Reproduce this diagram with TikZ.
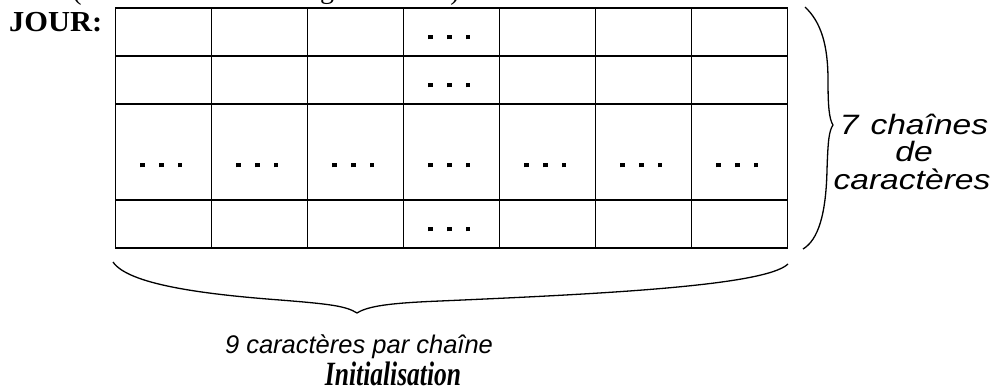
\documentclass[tikz,border=0pt]{standalone}
\usepackage{fontspec}
\usetikzlibrary{calc}
\newfontfamily\labelsans{Liberation Sans}
\newfontfamily\titleserif{Liberation Serif}
% three square dots marking elided characters
\newcommand\celldots{\rule{4.5bp}{4.5bp}\hspace{14.5bp}\rule{4.5bp}{4.5bp}\hspace{14bp}\rule{4.5bp}{4.5bp}}
\newcommand\stretchx[2]{\scalebox{#1}[1]{#2}}

\begin{document}
\begin{tikzpicture}[x=1bp,y=-1bp,
  cell/.style={draw, line width=1.8bp, inner sep=0, minimum width=96bp, minimum height=48bp},
  tallcell/.style={cell, minimum height=96bp},
  dotmark/.style={inner sep=0, anchor=center},
  brace/.style={line width=1.3bp, line join=round},
  sidetext/.style={font=\labelsans\itshape\fontsize{28bp}{28bp}\selectfont, inner sep=0, anchor=base},
  bottomtext/.style={font=\labelsans\itshape\fontsize{25.5bp}{25.5bp}\selectfont, inner sep=0, anchor=base},
  titletext/.style={font=\titleserif\bfseries\itshape\fontsize{34bp}{34bp}\selectfont, inner sep=0, anchor=base},
  headtext/.style={font=\titleserif\bfseries\fontsize{29bp}{29bp}\selectfont, inner sep=0, anchor=base west},
  cuttext/.style={font=\titleserif\fontsize{28bp}{28bp}\selectfont, inner sep=0, anchor=base}]
\useasboundingbox (0,0) rectangle (996,387);

% line of text above, cut off by the top edge
\begin{scope}
  \clip (0,0) rectangle (996,387);
  \node[cuttext] (lp) at (77,-1) {(};
  \node[cuttext] (gg) at (327,-1.5) {g};
  \node[cuttext] (rp) at (455,-1) {)};
\end{scope}

% table of 7 strings of 9 characters
\node[headtext] (jour) at (9,31) {\stretchx{1.05}{JOUR:}};
\foreach \k in {1,...,7} {
  \node[cell]     (c1\k) at ({163.5+96*(\k-1)},32)  {};
  \node[cell]     (c2\k) at ({163.5+96*(\k-1)},80)  {};
  \node[tallcell] (c3\k) at ({163.5+96*(\k-1)},152) {};
  \node[cell]     (c4\k) at ({163.5+96*(\k-1)},224) {};
  \node[dotmark]  (d3\k) at ($(c3\k.center)+(-2.5,13)$) {\celldots};
}
\node[dotmark] (d14) at ($(c14.center)+(-2.5,5)$) {\celldots};
\node[dotmark] (d24) at ($(c24.center)+(-2.5,5)$) {\celldots};
\node[dotmark] (d44) at ($(c44.center)+(-2.5,5)$) {\celldots};

% right brace: the strings
\coordinate (rbt) at (805,7);
\coordinate (rbtip) at (833,125);
\coordinate (rbb) at (803,249);
\draw[brace] (rbt) .. controls (821,22) and (828,45) .. (828,80)
  .. controls (828,105) and (829,119) .. (rbtip)
  .. controls (829,131) and (828,140) .. (827,170)
  .. controls (826,215) and (818,240) .. (rbb);

% bottom brace: the characters of a string
\coordinate (bbl) at (113,262);
\coordinate (bbtip) at (357,313);
\coordinate (bbr) at (788,264);
\draw[brace] (bbl) .. controls (128,284) and (200,294) .. (280,300)
  .. controls (330,304) and (346,306) .. (bbtip)
  .. controls (368,306) and (390,303) .. (440,301)
  .. controls (600,294) and (765,286) .. (bbr);

\node[sidetext] (s1) at (914,134) {\stretchx{1.2}{7\hspace{10bp}chaînes}};
\node[sidetext] (s2) at (914,161) {\stretchx{1.2}{de}};
\node[sidetext] (s3) at (912,189) {\stretchx{1.2}{caractères}};
\node[bottomtext] (b1) at (359,353) {9 caractères par chaîne};
\node[titletext] (b2) at (393,385) {\stretchx{0.75}{Initialisation}};
\end{tikzpicture}
\end{document}
